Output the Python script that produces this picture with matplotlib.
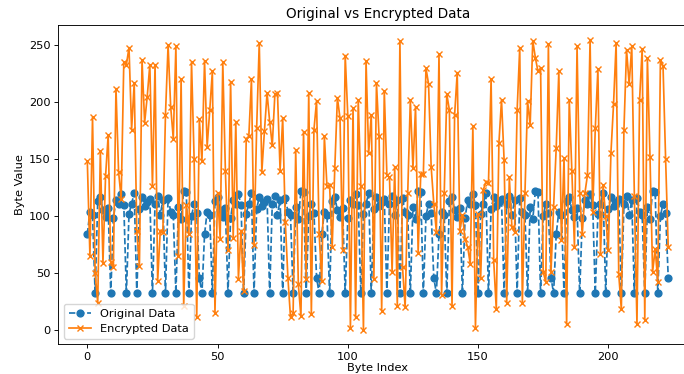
import numpy as np
import matplotlib as mpl
mpl.use('Agg')
import matplotlib.pyplot as plt

#
#--- original byte values (ascii of the plain text, five sentences)
#
original = [
    84, 104, 101, 32, 113, 117, 105, 99, 107, 32, 98, 114, 111, 119, 110, 32,
    102, 111, 120, 32, 106, 117, 109, 112, 115, 32, 111, 118, 101, 114, 32,
    116, 104, 101, 32, 108, 97, 122, 121, 32, 100, 111, 103, 46, 32,
    84, 104, 101, 32, 113, 117, 105, 99, 107, 32, 98, 114, 111, 119, 110, 32,
    102, 111, 120, 32, 106, 117, 109, 112, 115, 32, 111, 118, 101, 114, 32,
    116, 104, 101, 32, 108, 97, 122, 121, 32, 100, 111, 103, 46, 32,
    84, 104, 101, 32, 113, 117, 105, 99, 107, 32, 98, 114, 111, 119, 110, 32,
    102, 111, 120, 32, 106, 117, 109, 112, 115, 32, 111, 118, 101, 114, 32,
    116, 104, 101, 32, 108, 97, 122, 121, 32, 100, 111, 103, 46, 32,
    84, 104, 101, 32, 113, 117, 105, 99, 107, 32, 98, 114, 111, 119, 110, 32,
    102, 111, 120, 32, 106, 117, 109, 112, 115, 32, 111, 118, 101, 114, 32,
    116, 104, 101, 32, 108, 97, 122, 121, 32, 100, 111, 103, 46, 32,
    84, 104, 101, 32, 113, 117, 105, 99, 107, 32, 98, 114, 111, 119, 110, 32,
    102, 111, 120, 32, 106, 117, 109, 112, 115, 32, 111, 118, 101, 114, 32,
    116, 104, 101, 32, 108, 97, 122, 121, 32, 100, 111, 103, 46,
]
#
#--- encrypted byte values
#
encrypted = [
    148, 65, 187, 50, 24, 157, 59, 135, 171, 60, 55, 212, 139, 115, 235, 233,
    248, 176, 217, 87, 56, 237, 182, 205, 233, 126, 233, 43, 87, 86, 189, 250,
    196, 168, 249, 65, 220, 21, 110, 84, 235, 150, 11, 185, 148, 236, 161, 193,
    227, 15, 120, 80, 235, 140, 70, 218, 81, 183, 45, 87, 34, 168, 170, 220,
    75, 177, 252, 139, 175, 208, 183, 162, 207, 208, 140, 186, 95, 46, 11, 15,
    158, 40, 12, 174, 45, 208, 14, 176, 201, 84, 43, 170, 126, 127, 73, 142,
    204, 186, 70, 241, 188, 2, 195, 11, 202, 126, 0, 236, 155, 189, 45, 217,
    170, 17, 210, 136, 134, 51, 143, 21, 254, 55, 20, 120, 202, 142, 196, 68,
    137, 137, 230, 216, 143, 111, 86, 242, 31, 120, 207, 193, 21, 189, 226, 87,
    101, 80, 73, 58, 179, 2, 102, 46, 123, 130, 129, 220, 61, 18, 164, 202,
    149, 24, 134, 90, 86, 193, 248, 24, 120, 201, 180, 254, 239, 227, 230, 51,
    42, 251, 51, 108, 160, 227, 79, 151, 5, 202, 140, 73, 249, 120, 84, 120,
    136, 255, 104, 177, 229, 67, 127, 100, 70, 155, 198, 252, 49, 18, 176, 246,
    216, 249, 118, 5, 202, 247, 9, 239, 152, 51, 71, 42, 237, 232, 150, 73,
]

#-------------------------------------------------------------------------------------
#-- plot_bytes: plot original and encrypted byte values                             --
#-------------------------------------------------------------------------------------

def plot_bytes(orig, encr):
    """
    plot original and encrypted byte values against byte index
    input:  orig    --- a list of original byte values
            encr    --- a list of encrypted byte values
    output: out.png
    """
    plt.close('all')
    mpl.rcParams['font.size'] = 8.2

    fig = plt.figure(figsize=(6.84, 3.74), dpi=100)
#
#--- the right edge of the plotting area goes past the figure edge
#
    ax  = fig.add_axes([0.0852, 0.079, 0.9342, 0.854])

    idx = np.arange(len(orig))
    ax.plot(idx, orig, color='#1f77b4', linestyle='--', marker='o',
            markersize=4.9, lw=1.23, label='Original Data')
    ax.plot(idx, encr, color='#ff7f0e', linestyle='-', marker='x',
            markersize=4.9, lw=1.23, label='Encrypted Data')

    ax.set_xticks([0, 50, 100, 150, 200])
    ax.set_yticks([0, 50, 100, 150, 200, 250])
    ax.tick_params(length=2.9, width=0.65, pad=2.5)
    for sp in ax.spines.values():
        sp.set_linewidth(0.65)

    ax.set_title('Original vs Encrypted Data', fontsize=9.8, pad=5)
    ax.set_xlabel('Byte Index', labelpad=1)
    ax.set_ylabel('Byte Value', labelpad=3)
    ax.legend(loc='lower left', fontsize=8.2)

    plt.savefig('out.png', format='png', dpi=100)

#--------------------------------------------------------------------------------------

if __name__ == '__main__':

    plot_bytes(original, encrypted)
